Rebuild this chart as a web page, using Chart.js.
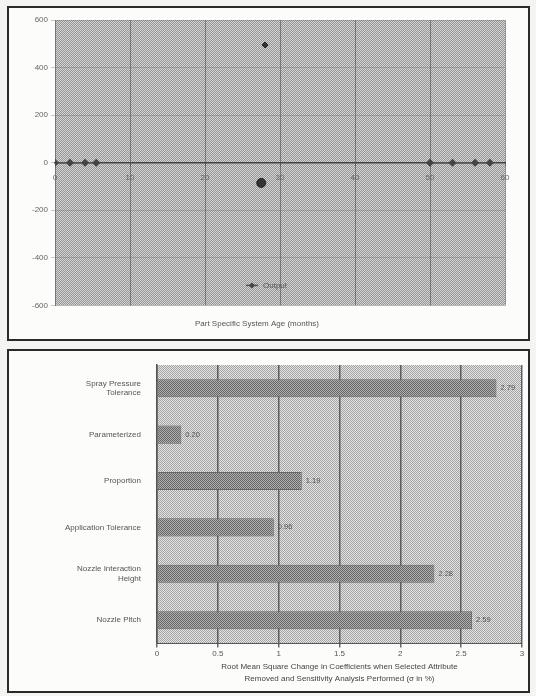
<!DOCTYPE html>
<html><head><meta charset="utf-8">
<script src="https://cdn.jsdelivr.net/npm/chart.js@4"></script>
<style>
html,body{margin:0;padding:0;background:#f4f4f2;}
body{width:536px;height:696px;position:relative;overflow:hidden;font-family:"Liberation Sans",Arial,sans-serif;}
.panel{position:absolute;left:7px;width:523px;border:2px solid #2b2b2b;background:#fcfcfb;box-sizing:border-box;}
#p1{top:6px;height:335px;}
#p2{top:349px;height:344px;}
.panel canvas{position:absolute;left:0;top:0;}
</style></head><body>
<div class="panel" id="p1"><canvas id="c1" width="519" height="331"></canvas></div>
<div class="panel" id="p2"><canvas id="c2" width="519" height="340"></canvas></div>
<script>
// ---------- top chart data ----------
const topXTickStep = 10;
const topXRange = [0, 60];
const topYTickStep = 200;
const topYRange = [-600, 600];
const leftSegX = [0, 2, 4, 5.5];
const leftSegY = [0, 0, 0, 0];
const rightSegX = [50, 53, 56, 58];
const rightSegY = [0, 0, 0, 0];
const pointX = [28, 27.5];
const pointY = [495, -85];
const topLegendLabel = "Output";
const topXTitle = "Part Specific System Age (months)";

// ---------- bottom chart data ----------
const categories = [
  ["Spray Pressure", "Tolerance"],
  "Parameterized",
  "Proportion",
  "Application Tolerance",
  ["Nozzle Interaction", "Height"],
  "Nozzle Pitch"
];
const rmsValues = [2.79, 0.20, 1.19, 0.96, 2.28, 2.59];
const barXTickStep = 0.5;
const barXRange = [0, 3];
const barXTitle = [
  "Root Mean Square Change in Coefficients when Selected Attribute",
  "Removed and Sensitivity Analysis Performed (σ in %)"
];

function makePattern(c1, c2) {
  const p = document.createElement('canvas');
  p.width = 2; p.height = 2;
  const g = p.getContext('2d');
  g.fillStyle = c1; g.fillRect(0, 0, 2, 2);
  g.fillStyle = c2; g.fillRect(0, 0, 1, 1); g.fillRect(1, 1, 1, 1);
  return g.createPattern(p, 'repeat');
}

const zip = (xs, ys) => xs.map((x, i) => ({x: x, y: ys[i]}));

const areaFill = {
  id: 'areaFill',
  beforeDraw(chart, args, opts) {
    const {ctx, chartArea: a} = chart;
    ctx.save();
    ctx.fillStyle = opts.fill;
    ctx.fillRect(a.left, a.top, a.right - a.left, a.bottom - a.top);
    ctx.restore();
  }
};

const innerLegend = {
  id: 'innerLegend',
  afterDatasetsDraw(chart) {
    const {ctx, chartArea: a} = chart;
    const cx = (a.left + a.right) / 2 - 22;
    const cy = a.bottom - 20;
    ctx.save();
    ctx.strokeStyle = '#555'; ctx.lineWidth = 1.5;
    ctx.beginPath(); ctx.moveTo(cx - 12, cy); ctx.lineTo(cx, cy); ctx.stroke();
    ctx.fillStyle = '#444';
    ctx.beginPath(); ctx.moveTo(cx - 6, cy - 3); ctx.lineTo(cx - 3, cy); ctx.lineTo(cx - 6, cy + 3); ctx.lineTo(cx - 9, cy); ctx.closePath(); ctx.fill();
    ctx.font = '8px "Liberation Sans", Arial, sans-serif';
    ctx.fillStyle = '#555'; ctx.textBaseline = 'middle';
    ctx.fillText(topLegendLabel, cx + 5, cy);
    ctx.restore();
  }
};

const lineStyle = {
  borderColor: '#555', borderWidth: 1.5, showLine: true,
  pointStyle: 'rectRot', pointRadius: 3, pointBackgroundColor: '#444', pointBorderColor: '#444'
};

new Chart(document.getElementById('c1'), {
  type: 'scatter',
  data: {
    datasets: [
      Object.assign({label: topLegendLabel, data: zip(leftSegX, leftSegY)}, lineStyle),
      Object.assign({label: topLegendLabel, data: zip(rightSegX, rightSegY)}, lineStyle),
      {label: 'points', data: zip(pointX, pointY), showLine: false,
       pointStyle: ['rectRot', 'circle'], pointRadius: [3, 4.5],
       pointBackgroundColor: '#333', pointBorderColor: '#222'}
    ]
  },
  options: {
    responsive: false, animation: false,
    layout: {padding: {top: 12, right: 23, left: 0, bottom: 6}},
    plugins: {
      legend: {display: false}, tooltip: {enabled: false},
      title: {display: true, position: 'bottom', text: topXTitle, color: '#555',
              font: {size: 8, weight: 'normal'}, padding: {top: 14, bottom: 4}},
      areaFill: {fill: makePattern('#d4d4d4', '#969696')}
    },
    scales: {
      x: {type: 'linear', min: topXRange[0], max: topXRange[1], position: {y: 0},
          ticks: {stepSize: topXTickStep, color: '#666', font: {size: 8}, padding: 7},
          grid: {color: 'rgba(80,80,80,0.6)', lineWidth: 1, tickLength: 3},
          border: {display: true, color: '#444', width: 1.5}},
      y: {min: topYRange[0], max: topYRange[1],
          ticks: {stepSize: topYTickStep, color: '#666', font: {size: 8}, padding: 3},
          grid: {color: 'rgba(110,110,110,0.35)', tickLength: 4},
          border: {color: '#777'},
          afterFit(s) { s.width = 46; }}
    }
  },
  plugins: [areaFill, innerLegend]
});

const valueLabels = {
  id: 'valueLabels',
  afterDatasetsDraw(chart) {
    const {ctx} = chart;
    const meta = chart.getDatasetMeta(0);
    ctx.save();
    ctx.font = '7.5px "Liberation Sans", Arial, sans-serif';
    ctx.fillStyle = '#555'; ctx.textBaseline = 'middle';
    meta.data.forEach((bar, i) => {
      ctx.fillText(rmsValues[i].toFixed(2), bar.x + 4, bar.y);
    });
    ctx.restore();
  }
};

new Chart(document.getElementById('c2'), {
  type: 'bar',
  data: {
    labels: categories,
    datasets: [{
      data: rmsValues,
      backgroundColor: makePattern('#aeaeae', '#676767'),
      borderColor: '#666', borderWidth: 1,
      categoryPercentage: 1, barPercentage: 0.39
    }]
  },
  options: {
    indexAxis: 'y', responsive: false, animation: false,
    layout: {padding: {top: 14, right: 6, left: 0, bottom: 6}},
    plugins: {
      legend: {display: false}, tooltip: {enabled: false},
      areaFill: {fill: makePattern('#e3e3e3', '#a4a4a4')}
    },
    scales: {
      x: {min: barXRange[0], max: barXRange[1],
          ticks: {stepSize: barXTickStep, color: '#555', font: {size: 8}, padding: 2,
                  callback: (v) => String(v)},
          grid: {color: 'rgba(60,60,60,0.75)', lineWidth: 1.5, tickLength: 4},
          border: {color: '#555'},
          title: {display: true, text: barXTitle, color: '#444',
                  font: {size: 8, lineHeight: 1.5}, padding: {top: 0, bottom: 0}}},
      y: {ticks: {color: '#555', font: {size: 8}, padding: 8},
          grid: {display: false},
          border: {color: '#555', width: 1.5},
          afterFit(s) { s.width = 148; }}
    }
  },
  plugins: [areaFill, valueLabels]
});
</script></body></html>
